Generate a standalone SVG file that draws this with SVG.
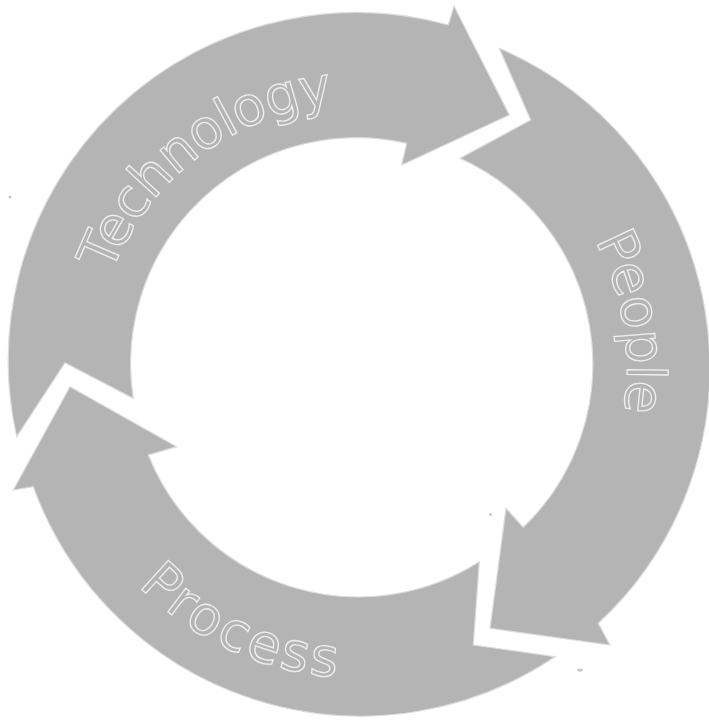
<svg xmlns="http://www.w3.org/2000/svg" xmlns:xlink="http://www.w3.org/1999/xlink" width="709" height="721" viewBox="0 0 709 721">
  <style>
    .arrow { fill: #b4b4b4; stroke: #dcdcdc; stroke-width: 1.2; stroke-linejoin: miter; }
    .label { font-family: "DejaVu Sans", "Liberation Sans", sans-serif; font-size: 54px; fill: #b4b4b4; stroke: #efefef; stroke-width: 1.3; }
    .speck { fill: #c8c8c8; }
  </style>
  <defs>
    <path id="pTech" d="M106.1,447.2 A265,265 0 0 1 501.8,144.7" fill="none"/>
    <path id="pPeople" d="M407.8,104.5 A268,268 0 0 1 491,601.3" fill="none"/>
    <path id="pProcess" d="M50,343.7 A310,310 0 0 0 580.1,585.3" fill="none"/>
  </defs>
  <rect width="709" height="721" fill="#ffffff"/>

  <g id="technology">
    <path class="arrow" d="M16.7,436.7 A348,348 0 0 1 448.3,25 L454,6 L509.3,115 L401.7,165 L406.7,143.3 A226,226 0 0 0 133.3,398.3 L65,362.7 Z"/>
    <text class="label" letter-spacing="-1"><textPath xlink:href="#pTech" href="#pTech" startOffset="50%" text-anchor="middle">Technology</textPath></text>
  </g>

  <g id="people">
    <path class="arrow" d="M499.3,48.3 A348,348 0 0 1 598.3,623.3 L610,645 L490,628.3 L506,508.3 L523.3,527.3 A226,226 0 0 0 460,158.3 L530.7,120 Z"/>
    <text class="label" letter-spacing="-0.5"><textPath xlink:href="#pPeople" href="#pPeople" startOffset="50%" text-anchor="middle">People</textPath></text>
  </g>

  <g id="process">
    <path class="arrow" d="M555,656.7 A348,348 0 0 1 33.3,486.7 L13.3,490 L70,386.7 L176.7,446.7 L148.3,455 A226,226 0 0 0 479.3,561.7 L473.3,645 Z"/>
    <text class="label" letter-spacing="3"><textPath xlink:href="#pProcess" href="#pProcess" startOffset="50%" text-anchor="middle">Process</textPath></text>
  </g>

  <g id="connectors"></g>

  <g id="specks">
    <circle class="speck" cx="10" cy="197" r="1.5"/>
    <circle class="speck" cx="490.5" cy="514.5" r="1.5"/>
    <ellipse class="speck" cx="580" cy="670" rx="3" ry="1.5"/>
  </g>
</svg>
